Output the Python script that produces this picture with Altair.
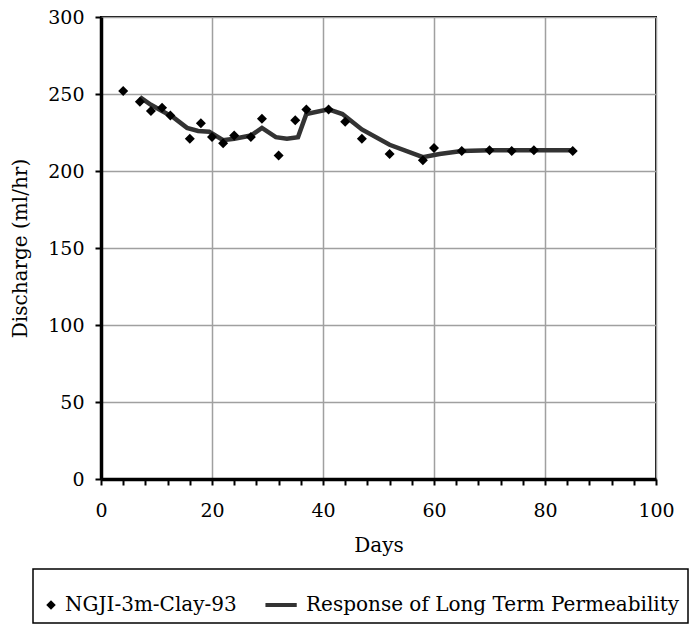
import altair as alt
import pandas as pd

# Measured discharge (NGJI-3m-Clay-93)
obs_day = [4, 7, 9, 11, 12.5, 16, 18, 20, 22, 24, 27, 29, 32, 35, 37, 41, 44, 47, 52, 58, 60, 65, 70, 74, 78, 85]
obs_q = [252, 245, 239, 241, 236, 221, 231, 222, 218, 223, 222, 234, 210, 233, 240, 240, 232, 221, 211, 207, 215, 213, 213.5, 213, 213.5, 213]

# Modelled response of long term permeability
fit_day = [7, 9, 11, 13, 15.5, 17.5, 19.5, 22, 24, 27, 29, 31.5, 33.5, 35.5, 37, 41, 43.5, 47, 52, 58, 61, 65, 70, 74, 78, 85]
fit_q = [248, 243, 239, 235, 228, 226, 225.5, 220, 221, 223, 228, 222, 221, 222, 237, 240, 237, 227, 217, 209, 211, 213, 213.5, 213.5, 213.5, 213.5]

series_names = ["NGJI-3m-Clay-93", "Response of Long Term Permeability"]

obs = pd.DataFrame({"day": obs_day, "q": obs_q, "series": series_names[0]})
fit = pd.DataFrame({"day": fit_day, "q": fit_q, "series": series_names[1]})

FONT = "DejaVu Serif"

# filled bar used as the legend swatch for the fitted line
LINE_SWATCH = "M-5.6,-0.42H1V0.42H-5.6Z"

x_enc = alt.X(
    "day:Q",
    scale=alt.Scale(domain=[0, 100], nice=False),
    axis=alt.Axis(
        title="Days",
        values=list(range(0, 101, 4)),
        labelExpr="datum.value % 20 === 0 ? datum.label : ''",
        labelOverlap=False,
        gridOpacity={"condition": {"test": "datum.value % 20 === 0", "value": 1}, "value": 0},
        labelPadding=16,
        titlePadding=15,
    ),
)
y_enc = alt.Y(
    "q:Q",
    scale=alt.Scale(domain=[0, 300], nice=False),
    axis=alt.Axis(title="Discharge (ml/hr)", values=list(range(0, 301, 50)), labelPadding=11, titlePadding=17),
)

legend = alt.Legend(
    title=" ",
    titleFontSize=8,
    titlePadding=10,
    orient="none",
    legendX=-68,
    legendY=552,
    direction="horizontal",
    columns=2,
    strokeColor="black",
    padding=8,
    columnPadding=28,
    labelFont=FONT,
    labelFontSize=20,
    labelColor="black",
    labelLimit=0,
    labelOffset=4,
    symbolSize=90,
    symbolStrokeWidth=0,
)

color = alt.Color(
    "series:N",
    scale=alt.Scale(domain=series_names, range=["#000000", "#333333"]),
    legend=legend,
)
shape = alt.Shape(
    "series:N",
    scale=alt.Scale(domain=series_names, range=["diamond", LINE_SWATCH]),
    legend=legend,
)

line = alt.Chart(fit).mark_line(strokeWidth=4.5, color="#3a3a3a").encode(x=x_enc, y=y_enc, color=color)
pts = alt.Chart(obs).mark_point(filled=True, size=100, opacity=1).encode(x=x_enc, y=y_enc, color=color, shape=shape)

chart = (
    alt.layer(line, pts)
    .properties(
        width=555,
        height=462,
        autosize=alt.AutoSizeParams(type="none"),
        padding={"left": 101, "top": 17, "right": 34, "bottom": 152},
        background="white",
    )
    .configure_view(stroke="black", strokeWidth=2)
    .configure_legend(strokeWidth=1.5)
    .configure_axis(
        labelFont=FONT,
        titleFont=FONT,
        labelFontSize=19,
        titleFontSize=20,
        titleFontWeight="normal",
        labelColor="black",
        titleColor="black",
        labelFlush=False,
        domainColor="black",
        domainWidth=3.5,
        tickColor="black",
        tickWidth=2,
        tickSize=6,
        gridColor="#a0a0a0",
        gridWidth=1.5,
    )
)

chart.save("out.html", embed_options={"renderer": "svg", "actions": False})
